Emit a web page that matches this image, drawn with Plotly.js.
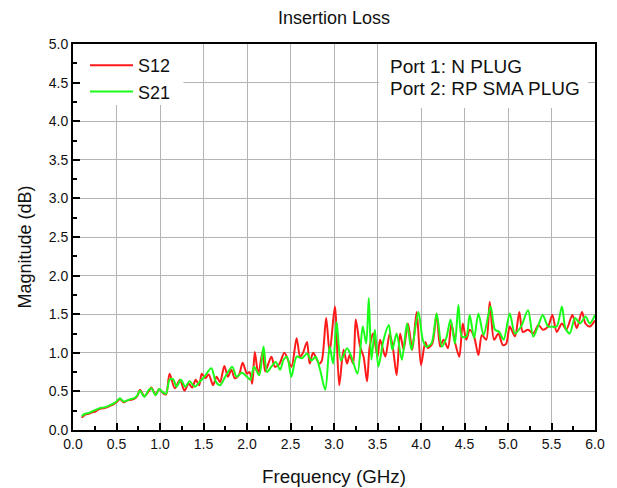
<!DOCTYPE html>
<html>
<head>
<meta charset="utf-8">
<script src="https://cdn.plot.ly/plotly-3.0.1.min.js"></script>
<style>html,body{margin:0;padding:0;background:#fff;}#chart{width:617px;height:488px;}</style>
</head>
<body>
<div id="chart"></div>
<script>
// S12 (red) readings: frequency (GHz) and magnitude (dB)
var s12Freq = [0.10,0.14,0.18,0.22,0.26,0.30,0.34,0.38,0.42,0.46,0.50,0.54,0.58,0.62,0.66,0.70,0.74,0.77,0.82,0.87,0.90,0.95,0.99,1.04,1.07,
  1.11,1.17,1.23,1.28,1.33,1.37,1.41,1.45,1.48,1.52,1.56,1.61,1.65,1.69,1.74,1.78,1.82,1.86,1.91,1.95,2.00,2.03,2.06,2.09,2.13,2.18,2.21,2.28,2.32,2.37,
  2.43,2.51,2.57,2.61,2.64,2.69,2.72,2.76,2.83,2.86,2.91,2.95,3.01,3.06,3.11,3.15,3.18,3.22,3.25,3.30,3.34,3.38,3.41,3.45,3.50,3.53,3.59,3.64,3.68,3.72,
  3.76,3.80,3.85,3.90,3.95,4.00,4.05,4.08,4.13,4.18,4.22,4.26,4.31,4.35,4.39,4.44,4.48,4.52,4.56,4.61,4.66,4.70,4.75,4.79,4.84,4.89,4.94,4.98,
  5.02,5.08,5.13,5.17,5.23,5.29,5.35,5.40,5.46,5.51,5.56,5.62,5.67,5.74,5.79,5.85,5.89,5.94,6.00];
var s12Val = [0.16,0.20,0.21,0.23,0.24,0.27,0.28,0.29,0.31,0.33,0.36,0.40,0.36,0.38,0.39,0.40,0.44,0.52,0.44,0.50,0.55,0.46,0.53,0.47,0.46,
  0.73,0.54,0.65,0.51,0.60,0.55,0.65,0.58,0.73,0.67,0.72,0.58,0.69,0.62,0.83,0.69,0.78,0.67,0.72,0.87,0.73,0.75,0.60,1.01,0.72,1.02,0.76,0.95,0.82,0.85,
  1.00,0.82,1.19,0.95,0.99,1.14,0.86,1.00,0.86,0.90,1.45,1.00,1.60,0.58,1.04,0.86,0.97,0.86,1.43,1.08,0.95,0.63,1.08,1.25,0.95,1.17,0.95,1.25,1.04,0.71,
  1.25,1.04,1.38,1.04,1.53,0.84,1.14,1.06,1.12,1.51,1.08,1.17,1.06,1.38,1.14,0.95,1.38,1.17,1.30,1.21,0.97,1.23,1.17,1.66,1.17,1.25,1.10,1.12,
  1.34,1.21,1.53,1.27,1.30,1.25,1.36,1.30,1.34,1.49,1.27,1.38,1.30,1.49,1.32,1.53,1.38,1.34,1.42];

// S21 (green) readings
var s21Freq = [0.10,0.14,0.18,0.22,0.26,0.30,0.34,0.38,0.42,0.46,0.50,0.54,0.58,0.62,0.66,0.70,0.74,0.77,0.82,0.87,0.90,0.95,0.99,1.04,1.07,
  1.11,1.15,1.19,1.24,1.29,1.34,1.40,1.46,1.51,1.59,1.64,1.69,1.75,1.83,1.88,1.94,2.00,2.04,2.08,2.14,2.19,2.23,2.28,2.33,2.38,2.42,2.46,2.51,2.57,2.63,
  2.69,2.74,2.79,2.84,2.90,2.95,2.99,3.03,3.08,3.15,3.20,3.27,3.33,3.37,3.40,3.43,3.47,3.51,3.57,3.63,3.67,3.72,3.78,3.84,3.89,3.97,
  4.02,4.06,4.12,4.18,4.24,4.29,4.34,4.39,4.43,4.47,4.52,4.56,4.61,4.66,4.72,4.80,4.85,4.90,4.95,
  5.02,5.08,5.15,5.23,5.29,5.35,5.40,5.46,5.50,5.56,5.62,5.66,5.71,5.77,5.83,5.89,5.94,6.00];
var s21Val = [0.18,0.21,0.22,0.24,0.26,0.28,0.29,0.30,0.32,0.34,0.37,0.41,0.37,0.38,0.40,0.41,0.45,0.51,0.43,0.52,0.54,0.45,0.53,0.48,0.47,
  0.65,0.66,0.56,0.65,0.56,0.63,0.56,0.63,0.69,0.80,0.63,0.58,0.69,0.82,0.69,0.74,0.69,0.65,0.82,0.71,1.08,0.75,0.82,0.88,0.78,0.91,0.95,0.69,0.95,0.93,
  0.99,0.90,0.95,0.78,0.52,1.08,0.86,1.40,0.90,1.06,0.95,0.73,1.34,1.12,1.71,0.91,1.30,0.82,1.17,1.36,1.04,1.25,0.91,1.38,1.04,1.53,
  1.17,1.08,1.12,1.51,1.08,1.19,1.43,1.12,1.62,1.21,1.21,1.49,1.19,1.51,1.23,1.60,1.30,1.27,1.17,
  1.51,1.25,1.34,1.55,1.21,1.36,1.49,1.34,1.34,1.34,1.60,1.32,1.25,1.45,1.38,1.47,1.38,1.49];

var portLines = ["Port 1: N PLUG", "Port 2: RP SMA PLUG"];

var FONT = "Arial, 'Liberation Sans', sans-serif";
var TXT = "#111";

var traces = [
  {x: s12Freq, y: s12Val, name: "S12", type: "scatter", mode: "lines",
   line: {color: "#ff1a1a", width: 2, shape: "spline", smoothing: 0.8}},
  {x: s21Freq, y: s21Val, name: "S21", type: "scatter", mode: "lines",
   line: {color: "#1aff1a", width: 2, shape: "spline", smoothing: 0.8}}
];

var axisCommon = {
  showline: true, linecolor: "#000", linewidth: 2, mirror: true,
  showgrid: true, gridcolor: "#b4b4b4", gridwidth: 1,
  ticks: "inside", ticklen: 7, tickwidth: 2, tickcolor: "#000",
  dtick: 0.5, tick0: 0, tickformat: ".1f",
  minor: {ticks: "inside", ticklen: 4, tickwidth: 2, tickcolor: "#000", dtick: 0.25, showgrid: false},
  tickfont: {family: FONT, size: 14, color: TXT},
  zeroline: false, fixedrange: true
};

var layout = {
  width: 617, height: 488,
  margin: {l: 73, r: 22, t: 44, b: 58},
  paper_bgcolor: "#fff", plot_bgcolor: "#fff",
  font: {family: FONT, color: TXT},
  title: {text: "Insertion Loss", font: {family: FONT, size: 18, color: TXT},
          x: 0.5, xref: "paper", y: 1 - 18/488, yref: "container", yanchor: "middle"},
  xaxis: Object.assign({}, axisCommon, {range: [0, 6],
    title: {text: "Frequency (GHz)", font: {family: FONT, size: 18.8, color: TXT}, standoff: 19}}),
  yaxis: Object.assign({}, axisCommon, {range: [0, 5]}),
  showlegend: true,
  legend: {x: (85-73)/522, y: (430-47)/386, xanchor: "left", yanchor: "top", bgcolor: "rgba(255,255,255,0)",
           itemwidth: 43,
           font: {family: FONT, size: 18, color: TXT}, tracegroupgap: 0},
  shapes: [
    {type: "rect", layer: "between", xref: "x", yref: "y", x0: 0, x1: 1.27, y0: 4.21, y1: 5,
     fillcolor: "#fff", line: {width: 0}},
    {type: "rect", layer: "between", xref: "x", yref: "y", x0: 3.52, x1: 5.92, y0: 4.17, y1: 5,
     fillcolor: "#fff", line: {width: 0}}
  ],
  annotations: [
    {text: portLines[0], xref: "paper", yref: "paper", x: (388-73)/522, y: (430-66)/386,
     xanchor: "left", yanchor: "middle", showarrow: false, align: "left",
     font: {family: FONT, size: 19, color: TXT}},
    {text: portLines[1], xref: "paper", yref: "paper", x: (388-73)/522, y: (430-89)/386,
     xanchor: "left", yanchor: "middle", showarrow: false, align: "left",
     font: {family: FONT, size: 19, color: TXT}},
    {text: "Magnitude (dB)", xref: "paper", yref: "paper", x: (24-73)/522, y: (430-247.5)/386,
     xanchor: "center", yanchor: "middle", showarrow: false, textangle: -90,
     font: {family: FONT, size: 18, color: TXT}}
  ]
};

Plotly.newPlot("chart", traces, layout, {displayModeBar: false, staticPlot: true});
</script>
</body>
</html>
